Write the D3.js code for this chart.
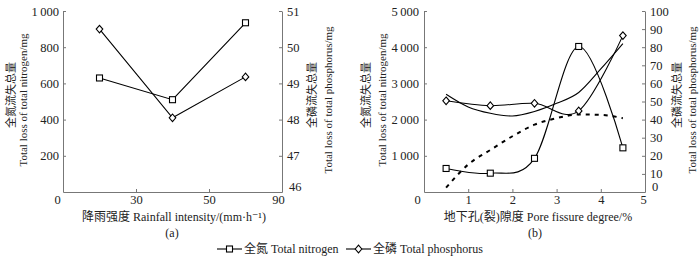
<!DOCTYPE html>
<html>
<head>
<meta charset="utf-8">
<script src="https://cdn.jsdelivr.net/npm/d3@7/dist/d3.min.js"></script>
<style>
  html, body { margin: 0; padding: 0; background: #fff; }
  svg { display: block; }
  svg text { font-family: "Liberation Serif", "DejaVu Serif", "Times New Roman", Times, "Noto Sans CJK SC", serif; }
</style>
</head>
<body>
<svg id="chart" width="700" height="258"></svg>
<script>
// ---------- DATA ----------
// Panel (a): rainfall intensity
const rainfallTickLabels = ["0", "30", "50", "90"];
const rainfallCategories = ["30", "50", "90"];
const nitrogenA = [630, 510, 935];          // mg, left axis
const phosphorusA = [50.5, 48.05, 49.18];   // mg, right axis
const leftTicksA = [200, 400, 600, 800, 1000];
const rightTicksA = [46, 47, 48, 49, 50, 51];

// Panel (b): pore fissure degree
const poreDegree = [0.5, 1.5, 2.5, 3.5, 4.5];
const nitrogenB = [650, 520, 930, 4020, 1220];   // mg, left axis
const phosphorusB = [50.4, 47.7, 49, 44.8, 86.4]; // mg, right axis
const trendDegree = [0.5, 1, 1.5, 2, 2.5, 3, 3.5, 4, 4.5];
const nitrogenTrendB = [120, 760, 1160, 1540, 1860, 2040, 2140, 2130, 2040];   // dashed, left axis
const phosphorusTrendB = [54, 47, 43.5, 42, 44.5, 49, 55, 68, 82];            // solid, right axis
const bottomTicksB = [0, 1, 2, 3, 4, 5];
const leftTicksB = [1000, 2000, 3000, 4000, 5000];
const rightTicksB = [0, 10, 20, 30, 40, 50, 60, 70, 80, 90, 100];

// ---------- DRAWING ----------
const FONT = "\"Liberation Serif\", \"DejaVu Serif\", \"Times New Roman\", Times, \"Noto Sans CJK SC\", serif";
const AXIS_COLOR = "#777";
const svg = d3.select("#chart");
svg.append("rect").attr("width", 700).attr("height", 258).attr("fill", "#fff");

const fmt = d => d3.format(",")(d).replace(/,/g, "\u2009");
const fmtInt = d3.format("d");

function styleAxis(g, size) {
  g.attr("font-family", null);
  g.select(".domain").attr("stroke", AXIS_COLOR).attr("stroke-width", 1);
  g.selectAll(".tick line").attr("stroke", AXIS_COLOR);
  g.selectAll(".tick text").style("font-family", FONT).attr("font-size", size || 12.5).attr("fill", "#222");
}

function marker(sel, type, x, y) {
  if (type === "square") {
    sel.append("rect").attr("x", x - 3).attr("y", y - 3).attr("width", 6).attr("height", 6)
      .attr("fill", "#fff").attr("stroke", "#000").attr("stroke-width", 1.1);
  } else {
    sel.append("path").attr("d", `M${x},${y - 3.8}L${x + 3.3},${y}L${x},${y + 3.8}L${x - 3.3},${y}Z`)
      .attr("fill", "#fff").attr("stroke", "#000").attr("stroke-width", 1.1);
  }
}

function vTitle(x, y, text, size) {
  svg.append("text").attr("transform", `translate(${x},${y}) rotate(-90)`)
    .attr("text-anchor", "middle").attr("dominant-baseline", "central")
    .style("font-family", FONT).attr("font-size", size).attr("fill", "#222").text(text);
}

function hText(x, y, text, size) {
  svg.append("text").attr("x", x).attr("y", y).attr("text-anchor", "middle")
    .attr("dominant-baseline", "central")
    .style("font-family", FONT).attr("font-size", size).attr("fill", "#222").text(text);
}

const TOP = 11, BOT = 192;

// ---------- PANEL A ----------
{
  const xTicks = d3.scalePoint().domain(rainfallTickLabels).range([63, 282]);
  const xBand = d3.scaleBand().domain(rainfallCategories).range([63, 282]).padding(0);
  const yL = d3.scaleLinear().domain([0, 1000]).range([BOT, TOP]);
  const yR = d3.scaleLinear().domain([46, 51]).range([BOT, TOP]);
  const cx = c => xBand(c) + xBand.bandwidth() / 2;

  const gx = svg.append("g").attr("transform", `translate(0,${BOT})`)
    .call(d3.axisBottom(xTicks).tickSizeInner(-3).tickSizeOuter(0).tickPadding(3));
  styleAxis(gx);
  gx.selectAll(".tick text").filter(d => d === "0").attr("dx", -6);
  gx.selectAll(".tick text").filter(d => d === "90").attr("dx", -4);

  const gl = svg.append("g").attr("transform", "translate(63,0)")
    .call(d3.axisLeft(yL).tickValues(leftTicksA).tickFormat(fmt).tickSizeInner(-3).tickSizeOuter(0).tickPadding(4));
  styleAxis(gl);

  const gr = svg.append("g").attr("transform", "translate(282,0)")
    .call(d3.axisRight(yR).tickValues(rightTicksA).tickFormat(fmtInt).tickSizeInner(-3).tickSizeOuter(0).tickPadding(5));
  styleAxis(gr);
  gr.selectAll(".tick text").filter(d => d === 46).attr("dy", "-0.1em").attr("dx", 2);

  const lineN = d3.line().x((d, i) => cx(rainfallCategories[i])).y(d => yL(d));
  const lineP = d3.line().x((d, i) => cx(rainfallCategories[i])).y(d => yR(d));
  svg.append("path").attr("d", lineN(nitrogenA)).attr("fill", "none").attr("stroke", "#000").attr("stroke-width", 1.1);
  svg.append("path").attr("d", lineP(phosphorusA)).attr("fill", "none").attr("stroke", "#000").attr("stroke-width", 1.1);
  const mg = svg.append("g");
  nitrogenA.forEach((v, i) => marker(mg, "square", cx(rainfallCategories[i]), yL(v)));
  phosphorusA.forEach((v, i) => marker(mg, "diamond", cx(rainfallCategories[i]), yR(v)));

  vTitle(11, 95, "全氮流失总量", 11);
  vTitle(23, 100, "Total loss of total nitrogen/mg", 11);
  vTitle(312, 95, "全磷流失总量", 11);
  vTitle(328, 100, "Total loss of total phosphorus/mg", 11);
  hText(174, 217, "降雨强度 Rainfall intensity/(mm·h⁻¹)", 12);
  hText(172, 233, "(a)", 12);
}

// ---------- PANEL B ----------
{
  const x = d3.scaleLinear().domain([0, 5]).range([424, 645]);
  const yL = d3.scaleLinear().domain([0, 5000]).range([BOT, TOP]);
  const yR = d3.scaleLinear().domain([0, 100]).range([BOT, TOP]);

  const gx = svg.append("g").attr("transform", `translate(0,${BOT})`)
    .call(d3.axisBottom(x).tickValues(bottomTicksB).tickFormat(fmtInt).tickSizeInner(-3).tickSizeOuter(0).tickPadding(3));
  styleAxis(gx);
  gx.selectAll(".tick text").filter(d => d === 0).attr("dx", -7);
  gx.selectAll(".tick text").filter(d => d === 5).attr("dx", -2);

  const gl = svg.append("g").attr("transform", "translate(424,0)")
    .call(d3.axisLeft(yL).tickValues(leftTicksB).tickFormat(fmt).tickSizeInner(-3).tickSizeOuter(0).tickPadding(5));
  styleAxis(gl);

  const gr = svg.append("g").attr("transform", "translate(645,0)")
    .call(d3.axisRight(yR).tickValues(rightTicksB).tickFormat(fmtInt).tickSizeInner(-3).tickSizeOuter(0).tickPadding(5));
  styleAxis(gr);
  gr.selectAll(".tick text").filter(d => d === 0).attr("dy", "-0.1em").attr("dx", 2);

  const curve = d3.curveCardinal.tension(0);
  const lineNB = d3.line().curve(curve).x((d, i) => x(poreDegree[i])).y(d => yL(d));
  const linePB = d3.line().curve(curve).x((d, i) => x(poreDegree[i])).y(d => yR(d));
  const trendN = d3.line().curve(d3.curveMonotoneX).x((d, i) => x(trendDegree[i])).y(d => yL(d));
  const trendP = d3.line().curve(d3.curveCardinal.tension(0)).x((d, i) => x(trendDegree[i])).y(d => yR(d));

  svg.append("path").attr("d", trendN(nitrogenTrendB)).attr("fill", "none").attr("stroke", "#000")
    .attr("stroke-width", 2).attr("stroke-dasharray", "4,5");
  svg.append("path").attr("d", trendP(phosphorusTrendB)).attr("fill", "none").attr("stroke", "#000").attr("stroke-width", 1.1);
  svg.append("path").attr("d", lineNB(nitrogenB)).attr("fill", "none").attr("stroke", "#000").attr("stroke-width", 1.1);
  svg.append("path").attr("d", linePB(phosphorusB)).attr("fill", "none").attr("stroke", "#000").attr("stroke-width", 1.1);
  const mg = svg.append("g");
  nitrogenB.forEach((v, i) => marker(mg, "square", x(poreDegree[i]), yL(v)));
  phosphorusB.forEach((v, i) => marker(mg, "diamond", x(poreDegree[i]), yR(v)));

  vTitle(366, 95, "全氮流失总量", 11);
  vTitle(382, 100, "Total loss of total nitrogen/mg", 11);
  vTitle(677, 95, "全磷流失总量", 11);
  vTitle(692, 100, "Total loss of total phosphorus/mg", 11);
  hText(538, 217, "地下孔(裂)隙度 Pore fissure degree/%", 12);
  hText(535, 233, "(b)", 12);
}

// ---------- LEGEND ----------
{
  const ly = 249;
  const items = [
    { type: "square", label: "全氮 Total nitrogen", x: 217 },
    { type: "diamond", label: "全磷 Total phosphorus", x: 346 }
  ];
  const lg = svg.append("g");
  items.forEach(it => {
    lg.append("line").attr("x1", it.x).attr("x2", it.x + 25).attr("y1", ly).attr("y2", ly)
      .attr("stroke", "#000").attr("stroke-width", 1.1);
    marker(lg, it.type, it.x + 12.5, ly);
    lg.append("text").attr("x", it.x + 27).attr("y", ly).attr("dominant-baseline", "central")
      .style("font-family", FONT).attr("font-size", 12).attr("fill", "#222").text(it.label);
  });
}
</script>
</body>
</html>
